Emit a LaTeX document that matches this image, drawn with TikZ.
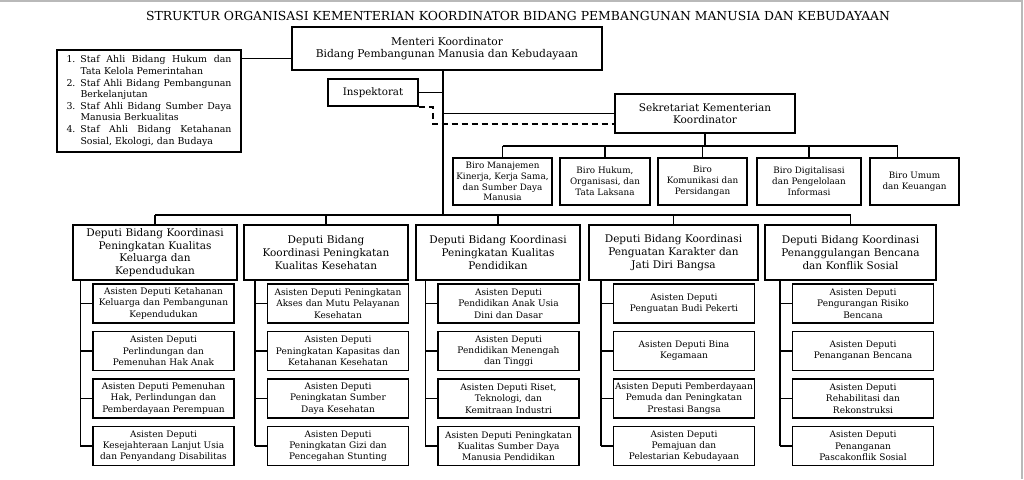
\documentclass[tikz,border=0pt]{standalone}
\usepackage{fontspec}
\setmainfont{DejaVu Serif}
\usetikzlibrary{positioning}

\begin{document}
\begin{tikzpicture}[
    x=1pt, y=-1pt,
    node distance=7pt,
    box/.style={draw, line width=1.5pt, rectangle, align=center, inner sep=1pt},
    asdep/.style={box, minimum width=141pt, minimum height=39pt, text width=139pt, font=\fontsize{9}{11.3}\selectfont},
    deputi/.style={box, minimum width=164pt, minimum height=55pt, text width=162pt, font=\fontsize{10.5}{12.8}\selectfont},
    biro/.style={box, minimum height=47pt, font=\fontsize{8.8}{10.8}\selectfont},
    line/.style={line width=1.5pt},
    dashline/.style={line width=1.5pt, dash pattern=on 6pt off 4pt}
]
\useasboundingbox (0,0) rectangle (1024,479);
\draw[gray!55, line width=2pt] (0,1) -- (1021.5,1) -- (1021.5,479);

% Judul
\node[font=\fontsize{12.4}{14}\selectfont] (judul) at (518,16) {STRUKTUR ORGANISASI KEMENTERIAN KOORDINATOR BIDANG PEMBANGUNAN MANUSIA DAN KEBUDAYAAN};

% Menteri, staf ahli, inspektorat, sekretariat
\node[box, minimum width=310pt, minimum height=43pt, font=\fontsize{10.7}{12.3}\selectfont] (menko) at (447,48.5) {Menteri Koordinator\\Bidang Pembangunan Manusia dan Kebudayaan};
\node[box, minimum width=184pt, minimum height=102pt, text width=165pt, align=justify, font=\fontsize{9.4}{11.6}\selectfont] (staf) at (149,101) {%
\noindent\hangindent=14pt\hangafter=1\makebox[14pt][l]{1.}Staf Ahli Bidang Hukum dan\linebreak Tata Kelola Pemerintahan\par
\noindent\hangindent=14pt\hangafter=1\makebox[14pt][l]{2.}Staf Ahli Bidang Pembangunan\linebreak Berkelanjutan\par
\noindent\hangindent=14pt\hangafter=1\makebox[14pt][l]{3.}Staf Ahli Bidang Sumber Daya\linebreak Manusia Berkualitas\par
\noindent\hangindent=14pt\hangafter=1\makebox[14pt][l]{4.}Staf Ahli Bidang Ketahanan\linebreak Sosial, Ekologi, dan Budaya\par};
\node[box, minimum width=90pt, minimum height=27pt, font=\fontsize{10.3}{12}\selectfont] (insp) at (373,92.5) {Inspektorat};
\node[box, minimum width=180pt, minimum height=39pt, font=\fontsize{10.5}{12.5}\selectfont] (sekre) at (705,113.5) {Sekretariat Kementerian\\Koordinator};

\coordinate (pusat) at (443,70);
\coordinate (depbus) at (443,215);
\coordinate (birobus) at (705,146);

% Biro
\node[biro, minimum width=99pt] (biro1) at (502.5,181.5) {Biro Manajemen\\Kinerja, Kerja Sama,\\dan Sumber Daya\\Manusia};
\node[biro, minimum width=90pt] (biro2) at (605,181.5) {Biro Hukum,\\Organisasi, dan\\Tata Laksana};
\node[biro, minimum width=89pt] (biro3) at (702.5,181.5) {Biro\\Komunikasi dan\\Persidangan};
\node[biro, minimum width=104pt] (biro4) at (809,181.5) {Biro Digitalisasi\\dan Pengelolaan\\Informasi};
\node[biro, minimum width=89pt] (biro5) at (914.5,181.5) {Biro Umum\\dan Keuangan};

% Deputi
\node[deputi] (dep1) at (155,252.5) {Deputi Bidang Koordinasi\\Peningkatan Kualitas\\Keluarga dan\\Kependudukan};
\node[deputi] (dep2) at (326,252.5) {Deputi Bidang\\Koordinasi Peningkatan\\Kualitas Kesehatan};
\node[deputi] (dep3) at (498,252.5) {Deputi Bidang Koordinasi\\Peningkatan Kualitas\\Pendidikan};
\node[deputi, minimum width=169pt] (dep4) at (673.5,252.5) {Deputi Bidang Koordinasi\\Penguatan Karakter dan\\Jati Diri Bangsa};
\node[deputi, minimum width=171pt] (dep5) at (850.5,252.5) {Deputi Bidang Koordinasi\\Penanggulangan Bencana\\dan Konflik Sosial};

% Asisten Deputi
\node[asdep] (as11) at (163.5,303.5) {Asisten Deputi Ketahanan\\Keluarga dan Pembangunan\\Kependudukan};
\node[asdep, below=of as11] (as12) {Asisten Deputi\\Perlindungan dan\\Pemenuhan Hak Anak};
\node[asdep, below=of as12] (as13) {Asisten Deputi Pemenuhan\\Hak, Perlindungan dan\\Pemberdayaan Perempuan};
\node[asdep, below=of as13] (as14) {Asisten Deputi\\Kesejahteraan Lanjut Usia\\dan Penyandang Disabilitas};

\node[asdep] (as21) at (338,303.5) {Asisten Deputi Peningkatan\\Akses dan Mutu Pelayanan\\Kesehatan};
\node[asdep, below=of as21] (as22) {Asisten Deputi\\Peningkatan Kapasitas dan\\Ketahanan Kesehatan};
\node[asdep, below=of as22] (as23) {Asisten Deputi\\Peningkatan Sumber\\Daya Kesehatan};
\node[asdep, below=of as23] (as24) {Asisten Deputi\\Peningkatan Gizi dan\\Pencegahan Stunting};

\node[asdep] (as31) at (508.5,303.5) {Asisten Deputi\\Pendidikan Anak Usia\\Dini dan Dasar};
\node[asdep, below=of as31] (as32) {Asisten Deputi\\Pendidikan Menengah\\dan Tinggi};
\node[asdep, below=of as32] (as33) {Asisten Deputi Riset,\\Teknologi, dan\\Kemitraan Industri};
\node[asdep, below=of as33] (as34) {Asisten Deputi Peningkatan\\Kualitas Sumber Daya\\Manusia Pendidikan};

\node[asdep] (as41) at (684,303.5) {Asisten Deputi\\Penguatan Budi Pekerti};
\node[asdep, below=of as41] (as42) {Asisten Deputi Bina\\Kegamaan};
\node[asdep, below=of as42] (as43) {Asisten Deputi Pemberdayaan\\Pemuda dan Peningkatan\\Prestasi Bangsa};
\node[asdep, below=of as43] (as44) {Asisten Deputi\\Pemajuan dan\\Pelestarian Kebudayaan};

\node[asdep] (as51) at (863,303.5) {Asisten Deputi\\Pengurangan Risiko\\Bencana};
\node[asdep, below=of as51] (as52) {Asisten Deputi\\Penanganan Bencana};
\node[asdep, below=of as52] (as53) {Asisten Deputi\\Rehabilitasi dan\\Rekonstruksi};
\node[asdep, below=of as53] (as54) {Asisten Deputi\\Penanganan\\Pascakonflik Sosial};

% Garis
\draw[line] ([yshift=-9pt]staf.north east) -- ([yshift=-9pt]staf.north east -| menko.west);
\draw[line] (pusat) -- (depbus);
\draw[line] (insp.east) -- (insp.east -| pusat);
\draw[line] (sekre.west) -- (sekre.west -| pusat);
\draw[dashline] (insp.south east) -- ++(14,0) |- ([yshift=-10.5pt]sekre.west);

\draw[line] (sekre.south) -- (birobus);
\draw[line] (biro1.north |- birobus) -- ([xshift=-17pt]biro5.north |- birobus);
\foreach \i in {1,...,4}
    \draw[line] (biro\i.north) -- (biro\i.north |- birobus);
\draw[line] ([xshift=-17pt]biro5.north) -- ++(0,-12);

\draw[line] (dep1.north |- depbus) -- (dep5.north |- depbus);
\foreach \c in {1,...,5}{
    \draw[line] (dep\c.north) -- (dep\c.north |- depbus);
    \coordinate (v\c) at ([xshift=-12pt]as\c1.west);
    \draw[line] (v\c |- dep\c.south) -- (v\c |- as\c4.west);
    \foreach \r in {1,...,4}
        \draw[line] (as\c\r.west) -- (v\c |- as\c\r.west);
}

\end{tikzpicture}
\end{document}
